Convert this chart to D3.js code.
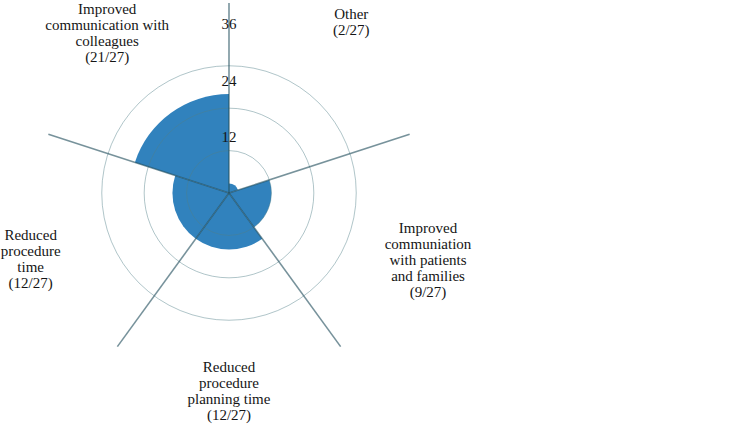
<!DOCTYPE html>
<html>
<head>
<meta charset="utf-8">
<script src="https://cdn.jsdelivr.net/npm/d3@7"></script>
<style>
  html, body { margin: 0; padding: 0; background: #fff; }
  svg { display: block; }
  text { font-family: "Liberation Serif", "DejaVu Serif", serif; fill: #151515; }
</style>
</head>
<body>
<svg id="chart" width="756" height="424"></svg>
<script>
// ---- Data ----
const categories = [
  "Other",
  "Improved communiation with patients and families",
  "Reduced procedure planning time",
  "Reduced procedure time",
  "Improved communication with colleagues"
];
const labelLines = [
  ["Other", "(2/27)"],
  ["Improved", "communiation", "with patients", "and families", "(9/27)"],
  ["Reduced", "procedure", "planning time", "(12/27)"],
  ["Reduced", "procedure", "time", "(12/27)"],
  ["Improved", "communication with", "colleagues", "(21/27)"]
];
const values = [2, 9, 12, 12, 21];
const gridValues = [9, 18, 27];
const tickLabels = [12, 24, 36];
const axisMax = 40.3;

// label placement (layout): distance from centre, angle tweak in degrees
const labelRadius = [210, 210, 198, 209, 201];
const labelAngleTweak = [-0.4, 0.6, 0, -0.4, -1.3];

// ---- Layout ----
const svg = d3.select("#chart");
const cx = 229, cy = 193;
const r = d3.scaleLinear().domain([0, 40]).range([0, 188.5]);
const n = categories.length;
const step = 2 * Math.PI / n;
const g = svg.append("g").attr("transform", `translate(${cx},${cy})`);

// sectors
const arc = d3.arc()
  .innerRadius(0)
  .outerRadius(d => r(d.v))
  .startAngle(d => d.i * step)
  .endAngle(d => (d.i + 1) * step);

g.selectAll("path.sector")
  .data(values.map((v, i) => ({ v, i })))
  .join("path")
  .attr("class", "sector")
  .attr("d", arc)
  .attr("fill", "#3182bd");

// grid circles
g.selectAll("circle.grid")
  .data(gridValues)
  .join("circle")
  .attr("class", "grid")
  .attr("r", d => r(d))
  .attr("fill", "none")
  .attr("stroke", "#4f7f88")
  .attr("stroke-opacity", 0.45)
  .attr("stroke-width", 1);

// axis spokes
g.selectAll("line.spoke")
  .data(d3.range(n))
  .join("line")
  .attr("class", "spoke")
  .attr("x1", 0).attr("y1", 0)
  .attr("x2", i => r(axisMax) * Math.sin(i * step))
  .attr("y2", i => -r(axisMax) * Math.cos(i * step))
  .attr("stroke", "#244f5e")
  .attr("stroke-opacity", 0.62)
  .attr("stroke-width", 1.6);

// tick labels
g.selectAll("text.tick")
  .data(tickLabels)
  .join("text")
  .attr("class", "tick")
  .attr("x", 0)
  .attr("y", d => -r(d) + 1)
  .attr("text-anchor", "middle")
  .attr("dominant-baseline", "central")
  .attr("font-size", 15)
  .text(d => d);

// category labels
const lineH = 16;
labelLines.forEach((lines, i) => {
  const a = (i + 0.5) * step + labelAngleTweak[i] * Math.PI / 180;
  const lx = labelRadius[i] * Math.sin(a);
  const ly = -labelRadius[i] * Math.cos(a);
  const t = g.append("text")
    .attr("text-anchor", "middle")
    .attr("font-size", 15);
  lines.forEach((ln, k) => {
    t.append("tspan")
      .attr("x", lx)
      .attr("y", ly + (k - (lines.length - 1) / 2) * lineH)
      .attr("dominant-baseline", "central")
      .text(ln);
  });
});
</script>
</body>
</html>
